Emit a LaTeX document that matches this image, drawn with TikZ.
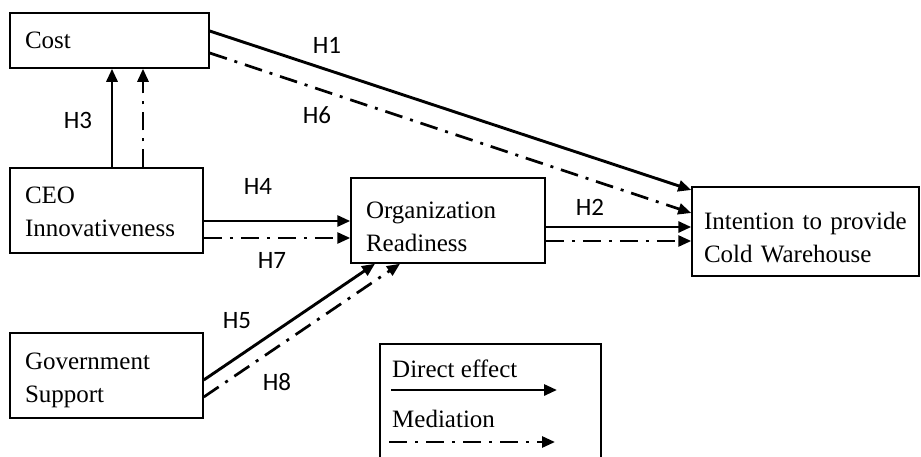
\documentclass[tikz,border=0pt]{standalone}
\usepackage{fontspec}
\setmainfont{Liberation Serif}
\newfontfamily\hfont{Carlito}
\usepackage{tikz}
\usetikzlibrary{arrows.meta,positioning,calc}

\newcommand{\tstrut}[1]{\rule{0pt}{#1}}

\tikzset{
    box/.style={draw, line width=1.5pt, inner xsep=15pt, inner ysep=0pt, align=left, text width=#1, minimum height=85pt},
    hyp/.style={font=\hfont\fontsize{25}{30}\selectfont, inner sep=0pt},
    direct/.style={line width=2.9pt, -{Triangle[length=13pt,width=11pt]}},
    mediate/.style={line width=2.7pt, dash pattern=on 18pt off 8pt on 3pt off 8pt, -{Triangle[length=13pt,width=11pt]}}
}

\begin{document}
\begin{tikzpicture}[x=1pt, y=-1pt, font=\fontsize{25}{33}\selectfont]
    \useasboundingbox (0,0) rectangle (921,456);
    \clip (0,0) rectangle (921,456);

    \node[box=169pt, minimum height=55pt] (cost) at (109.5,40.5) {Cost};
    \node[box=163pt] (ceo) at (106.5,210.5) {\tstrut{20pt}CEO\\Innovativeness};
    \node[box=163pt] (gov) at (106.5,375.5) {\tstrut{26pt}Government\\Support};
    \node[box=164pt] (org) at (448,220.5) {\tstrut{30pt}Organization\\Readiness};
    \node[box=203pt, inner xsep=12pt, minimum height=89pt] (intent) at (805.5,231.5) {\tstrut{30pt}Intention to provide\\Cold Warehouse};

    \draw[direct] ([xshift=5.5pt]ceo.north) -- ([xshift=2.5pt]cost.south);
    \draw[mediate] ([xshift=36.5pt]ceo.north) -- ([xshift=33.5pt]cost.south);
    \draw[direct] ([yshift=9.5pt]cost.east) -- ([yshift=41.5pt]intent.west);
    \draw[mediate] ([yshift=-12.5pt]cost.east) -- ([yshift=18.5pt]intent.west);
    \draw[direct] ([yshift=-10.5pt]ceo.east) -- ([yshift=-0.5pt]org.west);
    \draw[mediate] ([yshift=-27.5pt]ceo.east) -- ([yshift=-17.5pt]org.west);
    \draw[direct] ([yshift=-6.5pt]org.east) -- ([yshift=4.5pt]intent.west);
    \draw[mediate] ([yshift=-20.5pt]org.east) -- ([yshift=-9.5pt]intent.west);
    \draw[direct] ([yshift=-4.5pt]gov.east) -- ([xshift=-73pt]org.south);
    \draw[mediate] ([yshift=-21.5pt]gov.east) -- ([xshift=-48pt]org.south);

    \node[hyp] (h1) at (327,45) {H1};
    \node[hyp] (h2) at (590,207) {H2};
    \node[hyp] (h3) at (78,120) {H3};
    \node[hyp] (h4) at (258,186) {H4};
    \node[hyp] (h5) at (237,321) {H5};
    \node[hyp] (h6) at (317,115) {H6};
    \node[hyp] (h7) at (272,260) {H7};
    \node[hyp] (h8) at (277,382) {H8};

    % legend
    \node[draw, line width=1.5pt, minimum width=221pt, minimum height=130pt, anchor=north west] (legend) at (379,343) {};
    \node[anchor=base west, inner sep=0pt] (dlab) at (392,377) {Direct effect};
    \node[anchor=base west, inner sep=0pt] (mlab) at (392,427) {Mediation};
    \coordinate (d1) at (391,390);
    \coordinate (d2) at (557,390);
    \coordinate (m1) at (389,442);
    \coordinate (m2) at (555,442);
    \draw[direct] (d1) -- (d2);
    \draw[mediate] (m1) -- (m2);
\end{tikzpicture}
\end{document}
